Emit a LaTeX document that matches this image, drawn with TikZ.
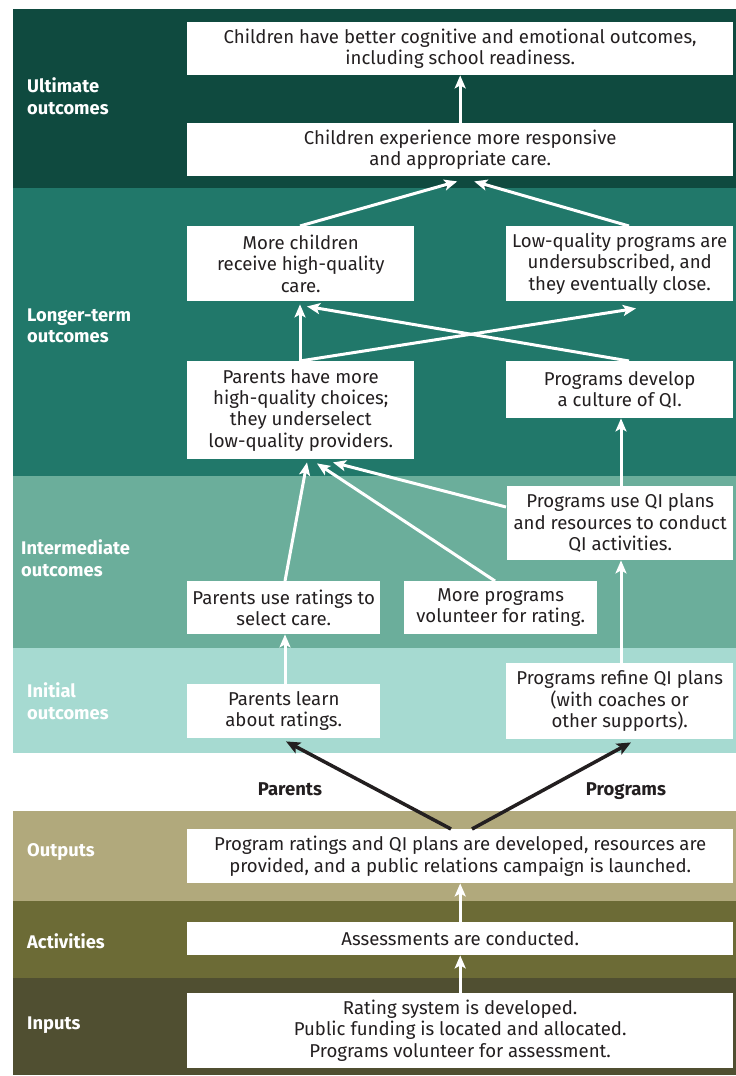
\documentclass[tikz,border=0pt]{standalone}
\usepackage{fontspec}
\setmainfont{Fira Sans}
\usetikzlibrary{arrows.meta,calc}
\definecolor{bUlt}{HTML}{0F4A3F}
\definecolor{bLong}{HTML}{21786A}
\definecolor{bInt}{HTML}{6BAE9B}
\definecolor{bIni}{HTML}{A6DAD1}
\definecolor{bOut}{HTML}{B1A97C}
\definecolor{bAct}{HTML}{6C6B36}
\definecolor{bInp}{HTML}{504F31}
\definecolor{ink}{HTML}{231F20}
\tikzset{
  box/.style={draw=none,fill=white,anchor=north west,inner sep=0pt,align=center,
    font=\fontsize{18.6}{21.3}\selectfont,text=ink},
  band/.style={anchor=west,align=left,text=white,inner sep=0pt,
    font=\fontsize{18.3}{21.5}\selectfont\bfseries},
  warr/.style={draw=white,line width=3pt,-{Stealth[length=13pt,width=11pt,inset=3pt]}},
  barr/.style={draw=ink,line width=3.5pt,-{Stealth[length=14pt,width=12pt,inset=3pt]}},
  group/.style={text=ink,inner sep=0pt,anchor=base,font=\fontsize{18.5}{20}\selectfont\bfseries}
}
\begin{document}
\begin{tikzpicture}[x=1pt,y=-1pt]
\useasboundingbox (0,0) rectangle (736,1076);
% bands
\fill[bUlt]  (13,9)   rectangle (736,188);
\fill[bLong] (13,188) rectangle (736,476);
\fill[bInt]  (13,476) rectangle (736,648);
\fill[bIni]  (13,648) rectangle (736,753);
\fill[bOut]  (13,811) rectangle (736,901);
\fill[bAct]  (13,901) rectangle (736,978);
\fill[bInp]  (13,978) rectangle (736,1075);
% band labels
\node[band] (lUlt) at (27,96) {Ultimate\\outcomes};
\node[band] (lLong) at (27,326) {Longer-term\\outcomes};
\node[band] (lInt) at (21,558) {Intermediate\\outcomes};
\node[band] (lIni) at (27,701) {Initial\\outcomes};
\node[band] (lOut) at (27,852) {Outputs};
\node[band] (lAct) at (27,941) {Activities};
\node[band] (lInp) at (27,1025) {Inputs};
% boxes
\node[box,minimum width=546pt,minimum height=53pt] (b1) at (187,22)
  {Children have better cognitive and emotional outcomes,\\including school readiness.};
\node[box,minimum width=546pt,minimum height=53pt] (b2) at (187,123)
  {Children experience more responsive\\and appropriate care.};
\node[box,minimum width=227pt,minimum height=75pt] (mc) at (187,226)
  {More children\\receive high-quality\\care.};
\node[box,minimum width=227pt,minimum height=75pt] (lq) at (506,226)
  {Low-quality programs are\\undersubscribed, and\\they eventually close.};
\node[box,minimum width=227pt,minimum height=98pt] (ph) at (187,361)
  {Parents have more\\high-quality choices;\\they underselect\\low-quality providers.};
\node[box,minimum width=227pt,minimum height=57pt] (pd) at (506,361)
  {Programs develop\\a culture of QI.};
\node[box,minimum width=226pt,minimum height=74pt] (pu) at (507,486)
  {Programs use QI plans\\and resources to conduct\\QI activities.};
\node[box,minimum width=193pt,minimum height=53pt] (pr) at (187,581)
  {Parents use ratings to\\select care.};
\node[box,minimum width=193pt,minimum height=53pt] (mp) at (404,581)
  {More programs\\volunteer for rating.};
\node[box,minimum width=193pt,minimum height=54pt] (pl) at (187,684)
  {Parents learn\\about ratings.};
\node[box,minimum width=227pt,minimum height=76pt] (rf) at (506,663)
  {Programs refine QI plans\\(with coaches or\\other supports).};
\node[box,minimum width=546pt,minimum height=54pt] (out) at (187,829)
  {Program ratings and QI plans are developed, resources are\\provided, and a public relations campaign is launched.};
\node[box,minimum width=546pt,minimum height=33pt] (act) at (187,922)
  {Assessments are conducted.};
\node[box,minimum width=546pt,minimum height=75pt] (inp) at (187,993)
  {Rating system is developed.\\Public funding is located and allocated.\\Programs volunteer for assessment.};
% group labels
\node[group] (gPar) at (290,795) {Parents};
\node[group] (gPro) at (626,795) {Programs};
% white arrows
\draw[warr] (b2.north) -- (b1.south);
\draw[warr] ($(mc.north west)+(113,0)$) -- ($(b2.south)+(-3,5)$);
\draw[warr] ($(lq.north west)+(123,0)$) -- ($(b2.south)+(14,5)$);
\draw[warr] ($(ph.north west)+(113,0)$) -- ($(mc.south west)+(113,3)$);
\draw[warr] ($(ph.north west)+(113,0)$) -- ($(lq.south west)+(130,7)$);
\draw[warr] ($(pd.north west)+(123,0)$) -- ($(mc.south west)+(120,5)$);
\draw[warr] ($(pu.north west)+(114,0)$) -- ($(pd.south west)+(115,0)$);
\draw[warr] ($(pu.north west)+(-1,21)$) -- ($(ph.south west)+(146,3)$);
\draw[warr] ($(mp.north west)+(91,0)$) -- ($(ph.south west)+(130,4)$);
\draw[warr] ($(pr.north west)+(98,0)$) -- ($(ph.south west)+(120,3)$);
\draw[warr] ($(pl.north west)+(98,0)$) -- ($(pr.south west)+(98,0)$);
\draw[warr] ($(rf.north west)+(115,0)$) -- ($(pu.south west)+(114,0)$);
\draw[warr] (act.north) -- (out.south);
\draw[warr] (inp.north) -- (act.south);
% black arrows
\draw[barr] ($(out.north west)+(264,0)$) -- ($(pl.south west)+(99,3)$);
\draw[barr] ($(out.north west)+(285,0)$) -- ($(rf.south west)+(125,3)$);
\end{tikzpicture}
\end{document}
